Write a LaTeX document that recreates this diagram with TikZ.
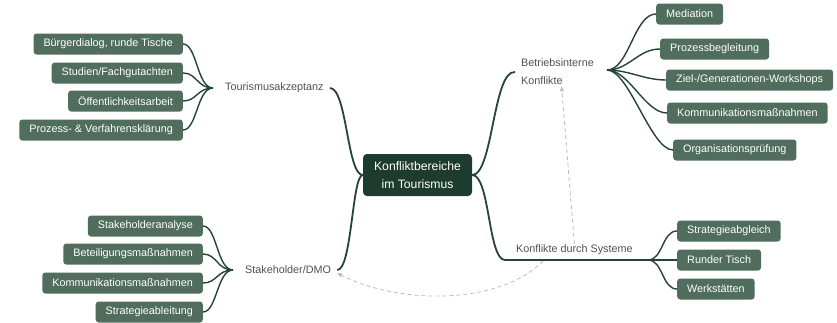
\documentclass[tikz,border=0pt]{standalone}
\usepackage{fontspec}
\setmainfont{Liberation Sans}
\usetikzlibrary{arrows.meta}

\definecolor{zentralfarbe}{HTML}{1E3B30}
\definecolor{kastenfarbe}{HTML}{506D5E}
\definecolor{astfarbe}{HTML}{24433A}
\definecolor{etikettfarbe}{HTML}{505050}
\definecolor{pfeilfarbe}{HTML}{BDBDB2}

\tikzset{
    kiste/.style={fill=kastenfarbe, text=white, rounded corners=3pt,
        inner xsep=10pt, inner ysep=0pt, minimum height=21pt,
        font=\fontsize{10.8}{13}\selectfont},
    thema/.style={text=etikettfarbe, inner xsep=6pt, inner ysep=1pt,
        font=\fontsize{10.8}{18}\selectfont},
    hauptast/.style={draw=astfarbe, line width=1.8pt},
    nebenast/.style={draw=astfarbe, line width=1.4pt},
    bezug/.style={draw=pfeilfarbe, line width=0.8pt, dash pattern=on 4pt off 3pt,
        -{Triangle[length=5pt,width=4pt]}}
}

\begin{document}
\begin{tikzpicture}[x=1pt, y=-1pt]
    \useasboundingbox (0,0) rectangle (837,322);

    % 中心节点
    \node[fill=zentralfarbe, text=white, rounded corners=4pt, minimum width=109pt,
        minimum height=42pt, align=center, inner sep=0pt,
        font=\fontsize{12.2}{18}\selectfont] (mitte) at (417.5,175)
        {Konfliktbereiche\\im Tourismus};

    % 四个主题
    \node[thema, anchor=west] (tour) at (219,88) {Tourismusakzeptanz};
    \node[thema, anchor=west] (stake) at (239,270) {Stakeholder/DMO};
    \node[thema, anchor=west, align=left] (bik) at (515,72) {Betriebsinterne\\Konflikte};
    \node[thema, anchor=west] (kds) at (510,250) {Konflikte durch Systeme};

    % 汇合点
    \coordinate (tourJ) at (213,88);
    \coordinate (stakeJ) at (233,270);
    \coordinate (bikJ) at (607,70);
    \coordinate (kdsA) at (505,260);
    \coordinate (kdsJ) at (648,260);
    \coordinate (kdsD) at (543,261);

    % 主分支
    \draw[hauptast] (mitte.west) .. controls (347,175) and (347,88) .. (tour.east);
    \draw[hauptast] (mitte.west) .. controls (352,175) and (352,270) .. (stake.east);
    \draw[hauptast] (mitte.east) .. controls (493,175) and (493,70) .. (bik.west);
    \draw[hauptast] (mitte.east) .. controls (490,175) and (488,260) .. (kdsA) -- (kdsJ);

    % 左上：Tourismusakzeptanz
    \node[kiste, anchor=east] (t1) at (183,44) {Bürgerdialog, runde Tische};
    \node[kiste, anchor=east] (t2) at (183,73) {Studien/Fachgutachten};
    \node[kiste, anchor=east] (t3) at (183,101) {Öffentlichkeitsarbeit};
    \node[kiste, anchor=east] (t4) at (183,130) {Prozess- \& Verfahrensklärung};
    \foreach \k in {t1,t2,t3,t4}
        \draw[nebenast] (tourJ) .. controls +(-16,0) and +(14,0) .. (\k.east);

    % 左下：Stakeholder/DMO
    \node[kiste, anchor=east] (s1) at (203,226) {Stakeholderanalyse};
    \node[kiste, anchor=east] (s2) at (203,254) {Beteiligungsmaßnahmen};
    \node[kiste, anchor=east] (s3) at (203,283) {Kommunikationsmaßnahmen};
    \node[kiste, anchor=east] (s4) at (203,312) {Strategieableitung};
    \foreach \k in {s1,s2,s3,s4}
        \draw[nebenast] (stakeJ) .. controls +(-16,0) and +(14,0) .. (\k.east);

    % 右上：Betriebsinterne Konflikte
    \node[kiste, anchor=west] (b1) at (656,14) {Mediation};
    \node[kiste, anchor=west] (b2) at (660,49) {Prozessbegleitung};
    \node[kiste, anchor=west] (b3) at (666,80) {Ziel-/Generationen-Workshops};
    \node[kiste, anchor=west] (b4) at (667,113) {Kommunikationsmaßnahmen};
    \node[kiste, anchor=west] (b5) at (673,150) {Organisationsprüfung};
    \foreach \k in {b1,b2,b3,b4,b5}
        \draw[nebenast] (bikJ) .. controls +(22,0) and +(-22,0) .. (\k.west);

    % 右下：Konflikte durch Systeme
    \node[kiste, anchor=west] (k1) at (677,231) {Strategieabgleich};
    \node[kiste, anchor=west] (k2) at (677,260) {Runder Tisch};
    \node[kiste, anchor=west] (k3) at (677,289) {Werkstätten};
    \foreach \k in {k1,k2,k3}
        \draw[nebenast] (kdsJ) .. controls +(15,0) and +(-15,0) .. (\k.west);

    % 虚线关联
    \draw[bezug] (kds.north) -- ([xshift=4pt]bik.south);
    \draw[bezug] (kdsD) .. controls (500,305) and (400,305) .. ([yshift=2pt]stake.south east);
\end{tikzpicture}
\end{document}
